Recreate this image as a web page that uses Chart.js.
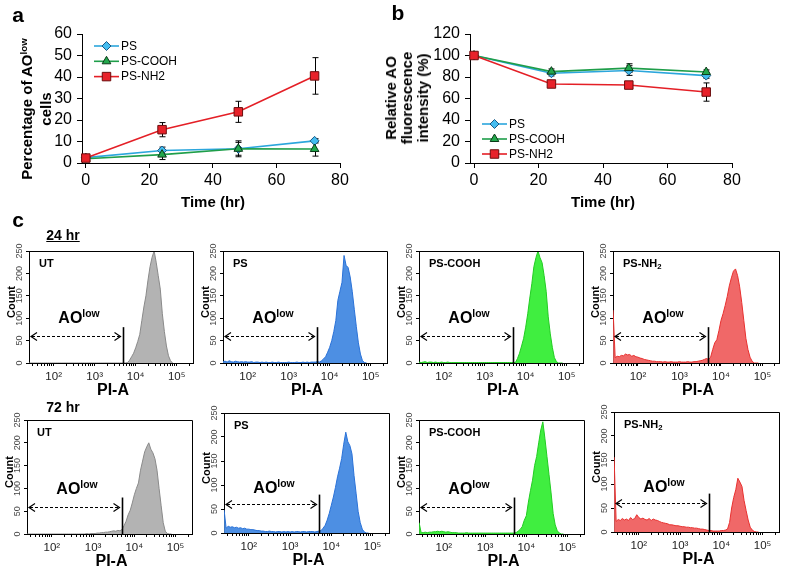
<!DOCTYPE html>
<html><head><meta charset="utf-8">
<script src="https://cdn.jsdelivr.net/npm/chart.js@4.4.0/dist/chart.umd.min.js"></script>
<style>
html,body{margin:0;padding:0;background:#fff;}
body{width:785px;height:570px;position:relative;overflow:hidden;font-family:"Liberation Sans",Arial,sans-serif;}
canvas{position:absolute;}
.lbl{position:absolute;white-space:nowrap;color:#000;line-height:1;font-family:"Liberation Sans",Arial,sans-serif;}
.lbl sup{font-size:0.65em;line-height:0;vertical-align:0.55em;}
.lbl sub{font-size:0.7em;line-height:0;vertical-align:-0.3em;}
</style></head><body>
<script>
// ---------- DATA ----------
const timeHr = [0, 24, 48, 72];
const timeTicks = [0, 20, 40, 60, 80];
const seriesNames = ['PS', 'PS-COOH', 'PS-NH2'];

// panel a: percentage of AO-low cells
const aoLowTicks = [0, 10, 20, 30, 40, 50, 60];
const aoLowPS = [2.5, 5.8, 6.6, 10.3];
const aoLowPSErr = [1.0, 1.6, 3.0, 1.0];
const aoLowCOOH = [2.0, 3.9, 6.6, 6.5];
const aoLowCOOHErr = [1.0, 2.3, 3.7, 3.3];
const aoLowNH2 = [2.3, 15.5, 23.8, 40.5];
const aoLowNH2Err = [1.5, 3.3, 4.9, 8.5];

// panel b: relative AO fluorescence intensity (%)
const relAoTicks = [0, 20, 40, 60, 80, 100, 120];
const relAoPS = [100, 83.5, 86, 81.3];
const relAoPSErr = [0, 2.5, 4.5, 2.5];
const relAoCOOH = [100, 85, 88.3, 84.6];
const relAoCOOHErr = [0, 2.5, 4, 2];
const relAoNH2 = [100, 73.5, 72.5, 66];
const relAoNH2Err = [0, 1.5, 1.5, 8.5];

// panel c: flow cytometry histograms (PI-A, log10 bin positions)
const histBinExp = [
 1.40,1.45,1.50,1.55,1.60,1.65,1.70,1.75,1.80,1.85,
 1.90,1.95,2.00,2.05,2.10,2.15,2.20,2.25,2.30,2.35,
 2.40,2.45,2.50,2.55,2.60,2.65,2.70,2.75,2.80,2.85,
 2.90,2.95,3.00,3.05,3.10,3.15,3.20,3.25,3.30,3.35,
 3.40,3.45,3.50,3.55,3.60,3.65,3.70,3.75,3.80,3.85,
 3.90,3.95,4.00,4.05,4.10,4.15,4.20,4.25,4.30,4.35,
 4.40,4.45,4.50,4.55,4.60,4.65,4.70,4.75,4.80,4.85,
 4.90];
const countTicks = [0, 50, 100, 150, 200, 250];
const decadeTicks = [100, 1000, 10000, 100000];
const decadeLabels = ['10²', '10³', '10⁴', '10⁵'];
const histNames = ['UT', 'PS', 'PS-COOH', 'PS-NH<sub>2</sub>'];
const timeLabels = ['24 hr', '72 hr'];
const gateValue = 5000;
const gateTopCount = 80;
const arrowCount = 60;

const count24UT = [
 0,0,0,0,0,0,0,0,0,0, 0,0,0,0,0,0,0,0,0,0, 0,0,0,0,0,0,0,0,0,0, 0,0,0,0,0,0,0,0,0,0,
 0,0,0,0,0,0,0,0,1,6, 14,22,34,48,64,95,125,150,185,215, 236,250,225,195,165,110,70,38,16,5, 0];
const count24PS = [
 3,4,2,5,3,2,4,3,2,3, 2,3,2,2,3,1,2,2,1,2, 1,2,1,1,2,1,1,2,1,1, 1,1,2,1,1,1,2,1,1,2,
 1,2,1,2,2,2,3,2,5,9, 14,24,35,50,70,95,140,160,180,240, 218,213,192,160,120,81,45,20,5,1, 0];
const count24COOH = [
 2,1,2,3,1,2,2,1,2,1, 1,2,1,1,2,1,1,1,1,1, 1,1,1,1,1,1,1,1,1,1, 1,1,1,1,1,1,1,1,1,1,
 1,1,1,1,1,1,1,1,10,22, 38,55,80,110,145,177,215,235,250,235, 224,195,160,103,65,35,12,3,0,0, 0];
const count24NH2 = [
 118,12,15,14,17,16,20,18,19,15, 17,14,13,11,10,8,7,6,5,4, 4,3,3,3,2,3,2,2,3,2, 2,2,3,2,2,2,3,2,2,3,
 3,4,5,6,8,10,8,13,30,45, 52,72,95,110,128,148,172,190,205,210, 195,170,135,95,55,30,13,4,0,0, 0];
const count72UT = [
 0,0,0,0,0,0,0,0,0,0, 0,0,0,0,0,0,0,0,0,0, 0,0,0,0,0,0,0,0,0,1, 0,1,1,1,2,2,3,3,4,4,
 5,6,7,6,8,7,10,18,28,42, 52,68,86,100,112,140,160,180,191,200, 186,178,165,140,100,62,25,6,1,0, 0];
const count72PS = [
 48,10,14,12,13,11,12,10,11,9, 10,8,8,7,7,6,5,5,4,4, 3,3,4,3,3,2,3,3,2,3, 2,3,2,3,2,3,3,2,3,3,
 2,3,3,3,2,3,4,5,10,16, 27,41,58,75,95,117,135,155,185,210, 190,182,165,120,83,45,22,8,2,0, 0];
const count72COOH = [
 25,3,3,4,3,4,4,5,5,6, 5,6,5,4,5,4,3,3,3,2, 2,2,2,3,2,2,2,2,2,2, 2,2,2,2,2,2,2,2,2,2,
 2,2,2,2,2,2,2,3,6,10, 16,30,40,70,95,118,150,170,200,228, 246,210,170,130,90,45,20,7,2,0, 0];
const count72NH2 = [
 156,22,26,24,28,25,27,24,30,26, 28,36,30,27,29,26,25,28,24,27, 25,24,22,20,19,18,17,15,15,14, 13,13,12,11,11,10,10,9,9,8,
 8,7,6,6,5,4,3,3,2,2, 2,2,3,3,4,6,20,50,72,88, 112,104,95,66,45,25,10,4,1,0, 0];

// ---------- STYLE / LAYOUT ----------
const FONT = '"Liberation Sans", Arial, sans-serif';
const seriesStyle = {
  'PS':      {line:'#2ba6dc', fill:'#45bdf0', edge:'#1b5a86', shape:'rectRot', r:4.5, order:2},
  'PS-COOH': {line:'#1f9e4a', fill:'#22a84c', edge:'#0b3a18', shape:'triangle', r:5, order:1},
  'PS-NH2':  {line:'#e41f26', fill:'#e8222a', edge:'#6b0d0d', shape:'rect', r:6, order:0}
};
const histColors = [
  {fill:'#b3b3b3', edge:'#8a8a8a'},
  {fill:'#4d8fe3', edge:'#2a72d8'},
  {fill:'#40ee40', edge:'#22cc22'},
  {fill:'#f06868', edge:'#e8302f'}
];
const histBoxes = [
  [{L:29,T:251,R:193,B:363},{L:223,T:251,R:387,B:363},{L:419,T:251,R:583,B:363},{L:613,T:251,R:779,B:363}],
  [{L:27,T:420,R:192,B:534},{L:224,T:413,R:389,B:533},{L:419,T:420,R:584,B:534},{L:614,T:412,R:779,B:532}]
];
const histCounts = [
  [count24UT, count24PS, count24COOH, count24NH2],
  [count72UT, count72PS, count72COOH, count72NH2]
];

// ---------- HELPERS ----------
function makeCanvas(left, top, w, h) {
  const c = document.createElement('canvas');
  c.width = w; c.height = h;
  c.style.left = left + 'px'; c.style.top = top + 'px';
  c.style.width = w + 'px'; c.style.height = h + 'px';
  document.body.appendChild(c);
  return c;
}
function label(html, x, y, css, opts) {
  opts = opts || {};
  const d = document.createElement('div');
  d.className = 'lbl';
  d.innerHTML = html;
  d.style.cssText += 'left:' + x + 'px;top:' + y + 'px;' + (css || '');
  const tx = opts.left ? '0' : '-50%';
  d.style.transform = 'translate(' + tx + ',-50%)' + (opts.rot ? ' rotate(-90deg)' : '');
  document.body.appendChild(d);
  return d;
}

const errorBarPlugin = {
  id: 'errbars',
  beforeDatasetsDraw(chart) {
    const {ctx, scales: {x, y}} = chart;
    ctx.save(); ctx.strokeStyle = '#000'; ctx.lineWidth = 1;
    chart.data.datasets.forEach(ds => {
      (ds.errs || []).forEach((e, i) => {
        if (!e) return;
        const px = Math.round(x.getPixelForValue(ds.data[i].x)) + 0.5;
        const top = y.getPixelForValue(ds.data[i].y + e);
        const bot = y.getPixelForValue(ds.data[i].y - e);
        ctx.beginPath();
        ctx.moveTo(px, top); ctx.lineTo(px, bot);
        ctx.moveTo(px - 3, top); ctx.lineTo(px + 3, top);
        ctx.moveTo(px - 3, bot); ctx.lineTo(px + 3, bot);
        ctx.stroke();
      });
    });
    ctx.restore();
  }
};
const lineLegendPlugin = {
  id: 'lineLegend',
  afterDatasetsDraw(chart, args, o) {
    const ctx = chart.ctx;
    chart.data.datasets.forEach((ds, i) => {
      const y = o.y + i * o.dy;
      ctx.save();
      ctx.strokeStyle = ds.borderColor; ctx.lineWidth = ds.borderWidth;
      ctx.beginPath(); ctx.moveTo(o.x, y); ctx.lineTo(o.x + o.w, y); ctx.stroke();
      ctx.fillStyle = ds.pointBackgroundColor; ctx.strokeStyle = ds.pointBorderColor; ctx.lineWidth = 1;
      Chart.helpers.drawPoint(ctx, {pointStyle: ds.pointStyle, radius: ds.pointRadius, borderWidth: 1, rotation: 0}, o.x + o.w / 2, y);
      ctx.fillStyle = '#000';
      ctx.font = '12px ' + FONT;
      ctx.textBaseline = 'middle'; ctx.textAlign = 'left';
      ctx.fillText(ds.label, o.x + o.w + 2, y + 0.5);
      ctx.restore();
    });
  }
};
const histDecorPlugin = {
  id: 'histDecor',
  afterDraw(chart) {
    const {ctx, chartArea: a, scales: {x, y}} = chart;
    ctx.save();
    ctx.strokeStyle = '#000'; ctx.lineWidth = 1;
    ctx.beginPath();
    ctx.moveTo(Math.round(a.left), Math.round(a.top) + 0.5);
    ctx.lineTo(Math.round(a.right) + 0.5, Math.round(a.top) + 0.5);
    ctx.lineTo(Math.round(a.right) + 0.5, Math.round(a.bottom));
    ctx.stroke();
    // gate line
    const gx = Math.round(x.getPixelForValue(gateValue)) + 0.5;
    ctx.lineWidth = 1.6;
    ctx.beginPath(); ctx.moveTo(gx, y.getPixelForValue(0)); ctx.lineTo(gx, y.getPixelForValue(gateTopCount)); ctx.stroke();
    // double arrow
    const ay = Math.round(y.getPixelForValue(arrowCount)) + 0.5;
    const ax0 = a.left + 2, ax1 = gx - 3;
    ctx.lineWidth = 1; ctx.setLineDash([3, 2]);
    ctx.beginPath(); ctx.moveTo(ax0 + 1, ay); ctx.lineTo(ax1 - 1, ay); ctx.stroke();
    ctx.setLineDash([]); ctx.lineWidth = 1.2;
    ctx.beginPath();
    ctx.moveTo(ax0 + 6, ay - 4); ctx.lineTo(ax0, ay); ctx.lineTo(ax0 + 6, ay + 4);
    ctx.moveTo(ax1 - 6, ay - 4); ctx.lineTo(ax1, ay); ctx.lineTo(ax1 - 6, ay + 4);
    ctx.stroke();
    // rotated count tick labels
    ctx.font = '9px ' + FONT; ctx.fillStyle = '#444';
    ctx.textAlign = 'center'; ctx.textBaseline = 'middle';
    countTicks.forEach(v => {
      const py = y.getPixelForValue(v);
      ctx.save(); ctx.translate(a.left - 9, py); ctx.rotate(-Math.PI / 2);
      ctx.fillText(String(v), 0, 0); ctx.restore();
    });
    ctx.restore();
  }
};

function axisCommon(tickLen) {
  return {
    grid: {drawOnChartArea: false, drawTicks: true, tickLength: tickLen, color: '#000'},
    border: {display: true, color: '#000', width: 1}
  };
}

function seriesDataset(name, values, errs) {
  const st = seriesStyle[name];
  return {
    label: name, data: timeHr.map((t, i) => ({x: t, y: values[i]})), errs: errs,
    borderColor: st.line, borderWidth: 1.6, pointStyle: st.shape, pointRadius: st.r,
    pointBackgroundColor: st.fill, pointBorderColor: st.edge, pointBorderWidth: 1,
    fill: false, tension: 0, clip: false, order: st.order
  };
}

function timeChart(canvas, datasets, yTicks, padTop, padRight, yW, xH, xMin, legendOpts) {
  return new Chart(canvas, {
    type: 'line',
    data: {datasets: datasets},
    options: {
      responsive: false, animation: false, devicePixelRatio: 1,
      layout: {padding: {top: padTop, right: padRight, left: 0, bottom: 0}},
      plugins: {legend: {display: false}, tooltip: {enabled: false}, lineLegend: legendOpts},
      scales: {
        x: Object.assign(axisCommon(5), {
          type: 'linear', min: xMin, max: timeTicks[timeTicks.length - 1],
          afterBuildTicks: s => { s.ticks = timeTicks.map(v => ({value: v})); },
          afterFit: s => { s.height = xH; },
          ticks: {font: {size: 16, family: FONT}, color: '#000', padding: 3, maxRotation: 0, autoSkip: false}
        }),
        y: Object.assign(axisCommon(5), {
          type: 'linear', min: yTicks[0], max: yTicks[yTicks.length - 1],
          afterBuildTicks: s => { s.ticks = yTicks.map(v => ({value: v})); },
          afterFit: s => { s.width = yW; },
          ticks: {font: {size: 16, family: FONT}, color: '#000', padding: 5, autoSkip: false}
        })
      }
    },
    plugins: [errorBarPlugin, lineLegendPlugin]
  });
}

// ---------- PANEL a ----------
timeChart(makeCanvas(0, 0, 360, 215), [
  seriesDataset('PS', aoLowPS, aoLowPSErr),
  seriesDataset('PS-COOH', aoLowCOOH, aoLowCOOHErr),
  seriesDataset('PS-NH2', aoLowNH2, aoLowNH2Err)
], aoLowTicks, 34, 20, 82, 52, -1.2, {x: 94, y: 46, dy: 15.3, w: 25});

// ---------- PANEL b ----------
timeChart(makeCanvas(380, 0, 405, 215), [
  seriesDataset('PS', relAoPS, relAoPSErr),
  seriesDataset('PS-COOH', relAoCOOH, relAoCOOHErr),
  seriesDataset('PS-NH2', relAoNH2, relAoNH2Err)
], relAoTicks, 34, 53, 90, 52, -1.25, {x: 102, y: 124, dy: 15, w: 25});

// ---------- PANEL c ----------
histBoxes.forEach((row, r) => {
  row.forEach((b, c) => {
    const padL = 30, padT = 8, padR = 6, xH = 22;
    const w = (b.R - b.L) + padL + padR, h = (b.B - b.T) + padT + xH;
    const counts = histCounts[r][c];
    const col = histColors[c];
    new Chart(makeCanvas(b.L - padL, b.T - padT, w, h), {
      type: 'line',
      data: {datasets: [{
        data: histBinExp.map((e, i) => ({x: Math.pow(10, e), y: counts[i]})),
        borderColor: col.edge, backgroundColor: col.fill, borderWidth: 1,
        pointRadius: 0, fill: 'origin', tension: 0
      }]},
      options: {
        responsive: false, animation: false, devicePixelRatio: 1,
        layout: {padding: {top: padT, right: padR, left: 0, bottom: 0}},
        plugins: {legend: {display: false}, tooltip: {enabled: false}},
        scales: {
          x: Object.assign(axisCommon(3), {
            type: 'logarithmic', min: 25, max: 250000,
            afterBuildTicks: s => {
              s.ticks = s.ticks.filter(t => {
                const m = t.value / Math.pow(10, Math.floor(Math.log10(t.value) + 1e-9));
                return Math.abs(m - Math.round(m)) < 1e-6;
              });
            },
            afterFit: s => { s.height = xH; },
            ticks: {
              autoSkip: false, maxRotation: 0, minRotation: 0, padding: 4,
              font: {size: 11.5, family: FONT + ', "DejaVu Sans"'}, color: '#222',
              callback: v => { const k = decadeTicks.indexOf(v); return k >= 0 ? decadeLabels[k] : ''; }
            }
          }),
          y: Object.assign(axisCommon(3), {
            type: 'linear', min: 0, max: countTicks[countTicks.length - 1],
            afterBuildTicks: s => { s.ticks = countTicks.map(v => ({value: v})); },
            afterFit: s => { s.width = padL; },
            ticks: {display: false}
          })
        }
      },
      plugins: [histDecorPlugin]
    });
    // texts
    label(histNames[c], b.L + 10, b.T + 12, 'font-weight:bold;font-size:11px;', {left: true});
    label('AO<sup>low</sup>', b.L + 50, b.B - 45, 'font-weight:bold;font-size:16px;');
    label('Count', b.L - 18, (b.T + b.B) / 2 - 5, 'font-weight:bold;font-size:11px;', {rot: true});
    label('PI-A', (b.L + b.R) / 2 + 2, b.B + 27, 'font-weight:bold;font-size:16px;');
  });
});

// ---------- TITLES / LABELS ----------
label('a', 18, 14, 'font-weight:bold;font-size:21px;');
label('b', 398, 12, 'font-weight:bold;font-size:21px;');
label('c', 18, 219, 'font-weight:bold;font-size:21px;');
label('Percentage of AO<sup>low</sup><br>cells', 36, 109, 'font-weight:bold;font-size:15px;line-height:19px;text-align:center;', {rot: true});
label('Relative AO<br>fluorescence<br>intensity (%)', 407, 98, 'font-weight:bold;font-size:15px;line-height:16px;text-align:center;', {rot: true});
label('Time (hr)', 213, 201, 'font-weight:bold;font-size:15px;');
label('Time (hr)', 603, 201, 'font-weight:bold;font-size:15px;');
label(timeLabels[0], 63, 235, 'font-weight:bold;font-size:14px;text-decoration:underline;');
label(timeLabels[1], 63, 407, 'font-weight:bold;font-size:14px;');
</script>
</body></html>
